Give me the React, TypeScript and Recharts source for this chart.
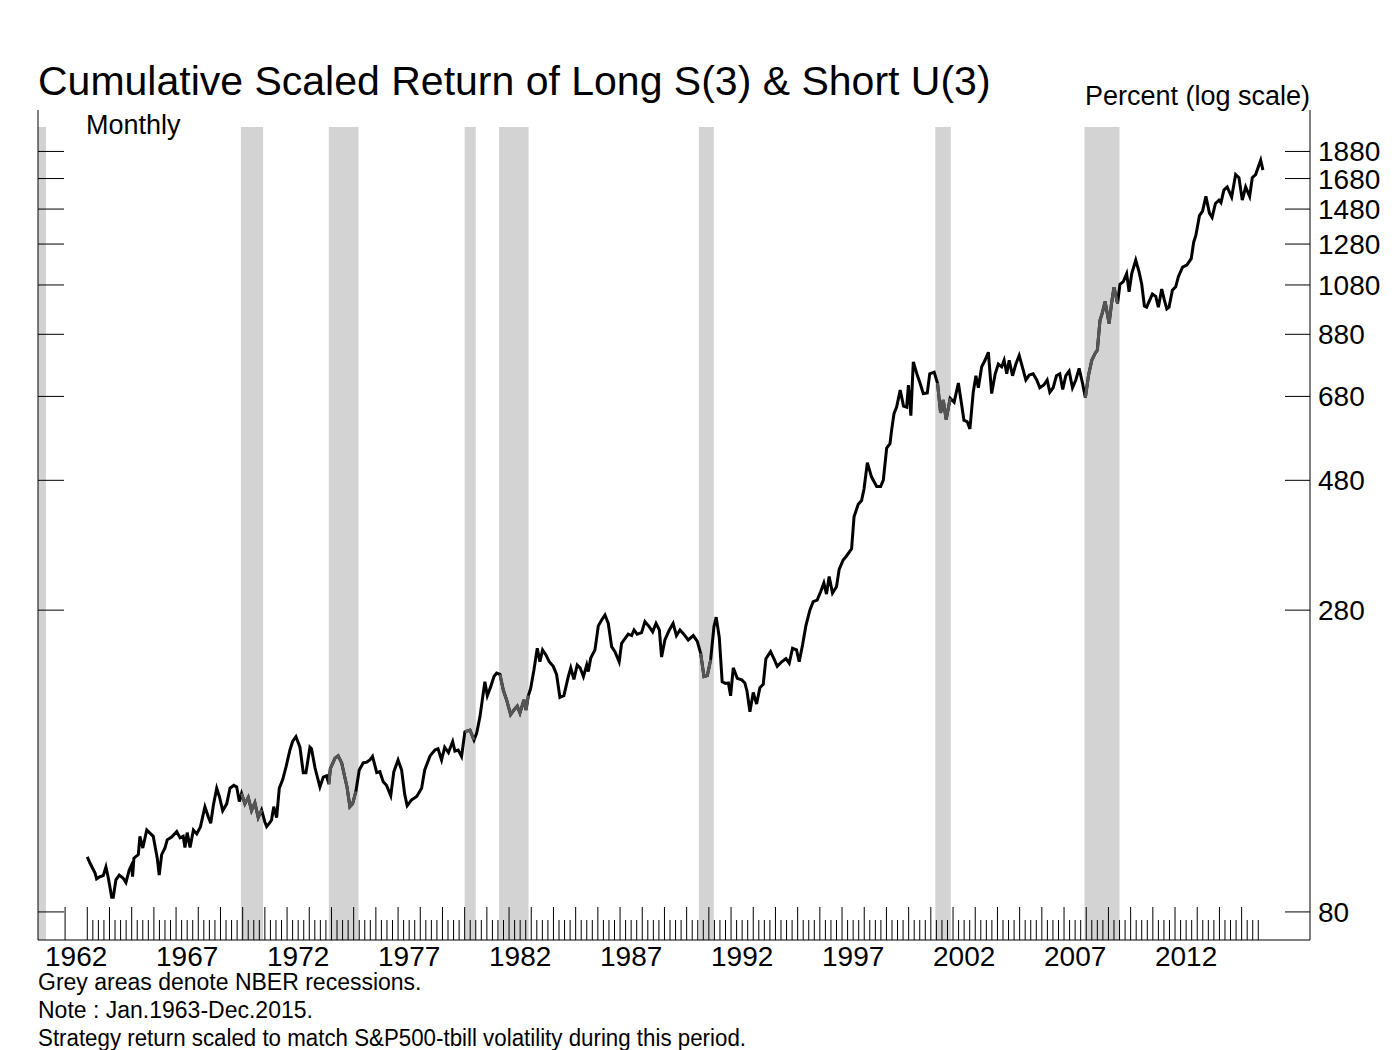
import { ComposedChart, Line, XAxis, YAxis, ReferenceArea } from 'recharts';

// Monthly-ish readings (year fraction) of the cumulative scaled return, percent
const dates = [
  1963.0, 1963.12, 1963.35, 1963.42, 1963.57, 1963.72, 1963.84, 1963.95, 1964.1, 1964.17,
  1964.29, 1964.44, 1964.62, 1964.74, 1964.89, 1965.0, 1965.04, 1965.1, 1965.3, 1965.37,
  1965.5, 1965.68, 1965.97, 1966.15, 1966.24, 1966.35, 1966.5, 1966.6, 1966.8, 1967.03,
  1967.18, 1967.32, 1967.4, 1967.5, 1967.63, 1967.78, 1967.93, 1968.1, 1968.3, 1968.45,
  1968.56, 1968.68, 1968.83, 1968.95, 1969.1, 1969.28, 1969.43, 1969.6, 1969.73, 1969.85,
  1969.95, 1970.1, 1970.25, 1970.4, 1970.55, 1970.7, 1970.85, 1971.0, 1971.08, 1971.23,
  1971.3, 1971.4, 1971.53, 1971.65, 1971.8, 1971.95, 1972.13, 1972.25, 1972.4, 1972.58,
  1972.73, 1972.85, 1973.03, 1973.1, 1973.26, 1973.48, 1973.63, 1973.78, 1973.88, 1973.95,
  1974.16, 1974.3, 1974.46, 1974.6, 1974.7, 1974.83, 1974.95, 1975.1, 1975.25, 1975.43,
  1975.59, 1975.73, 1975.85, 1976.04, 1976.18, 1976.33, 1976.48, 1976.67, 1976.81, 1977.0,
  1977.16, 1977.3, 1977.41, 1977.6, 1977.84, 1978.06, 1978.2, 1978.44, 1978.66, 1978.8,
  1978.96, 1979.1, 1979.27, 1979.46, 1979.56, 1979.71, 1979.86, 1980.01, 1980.24, 1980.42,
  1980.54, 1980.69, 1980.91, 1981.02, 1981.17, 1981.32, 1981.44, 1981.59, 1981.74, 1981.89,
  1982.07, 1982.22, 1982.37, 1982.49, 1982.67, 1982.76, 1982.87, 1982.97, 1983.12, 1983.27,
  1983.39, 1983.51, 1983.66, 1983.81, 1983.99, 1984.14, 1984.29, 1984.47, 1984.67, 1984.78,
  1984.92, 1985.07, 1985.2, 1985.35, 1985.5, 1985.57, 1985.68, 1985.87, 1986.02, 1986.17,
  1986.32, 1986.47, 1986.62, 1986.77, 1986.96, 1987.07, 1987.18, 1987.37, 1987.52, 1987.63,
  1987.77, 1987.97, 1988.12, 1988.31, 1988.47, 1988.62, 1988.77, 1988.87, 1989.02, 1989.22,
  1989.39, 1989.54, 1989.7, 1989.87, 1990.07, 1990.3, 1990.48, 1990.63, 1990.78, 1990.93,
  1991.08, 1991.23, 1991.33, 1991.47, 1991.6, 1991.75, 1991.88, 1991.98, 1992.1, 1992.28,
  1992.48, 1992.62, 1992.72, 1992.85, 1993.0, 1993.15, 1993.3, 1993.45, 1993.57, 1993.78,
  1993.93, 1994.08, 1994.28, 1994.47, 1994.62, 1994.77, 1994.95, 1995.07, 1995.22, 1995.37,
  1995.55, 1995.7, 1995.88, 1996.04, 1996.18, 1996.3, 1996.42, 1996.57, 1996.75, 1996.87,
  1997.05, 1997.2, 1997.43, 1997.54, 1997.73, 1997.88, 1997.99, 1998.14, 1998.33, 1998.56,
  1998.74, 1998.86, 1999.01, 1999.16, 1999.23, 1999.34, 1999.46, 1999.62, 1999.77, 1999.91,
  1999.99, 2000.1, 2000.21, 2000.38, 2000.53, 2000.66, 2000.84, 2000.95, 2001.15, 2001.3,
  2001.44, 2001.56, 2001.69, 2001.87, 2002.05, 2002.24, 2002.39, 2002.49, 2002.64, 2002.76,
  2002.91, 2003.03, 2003.14, 2003.29, 2003.44, 2003.59, 2003.74, 2003.9, 2004.04, 2004.19,
  2004.3, 2004.42, 2004.53, 2004.68, 2004.83, 2004.98, 2005.14, 2005.28, 2005.43, 2005.61,
  2005.77, 2005.91, 2006.09, 2006.24, 2006.36, 2006.51, 2006.66, 2006.81, 2006.94, 2007.08,
  2007.23, 2007.38, 2007.53, 2007.68, 2007.83, 2007.96, 2008.1, 2008.25, 2008.4, 2008.5,
  2008.62, 2008.72, 2008.85, 2009.03, 2009.14, 2009.25, 2009.32, 2009.41, 2009.52, 2009.67,
  2009.82, 2009.93, 2010.05, 2010.23, 2010.38, 2010.5, 2010.62, 2010.72, 2010.83, 2010.98,
  2011.13, 2011.25, 2011.4, 2011.52, 2011.63, 2011.73, 2011.88, 2012.03, 2012.15, 2012.34,
  2012.53, 2012.73, 2012.84, 2012.94, 2013.1, 2013.24, 2013.39, 2013.55, 2013.67, 2013.82,
  2013.98, 2014.07, 2014.2, 2014.35, 2014.55, 2014.73, 2014.88, 2015.03, 2015.18, 2015.36,
  2015.48, 2015.63, 2015.86, 2015.96,
];

const values = [
  100.5, 98, 94, 91.8, 92.6, 93, 96.4, 92, 85, 85,
  91.4, 93.2, 92, 90.4, 95.2, 97.3, 92.6, 100, 101.5, 109.5,
  104.3, 112.4, 109.5, 100.1, 93.2, 101.5, 104.3, 107.9, 109.2, 111.7,
  108.8, 109.5, 104.5, 111.2, 104.5, 112.4, 110.6, 114, 123.8, 118.8,
  115.6, 124.6, 133.7, 129.2, 121.8, 125.3, 133.7, 135.3, 134.4, 126.5,
  130.8, 125.3, 128.7, 121.8, 125.8, 118.4, 122.2, 116.2, 114, 116,
  117.2, 123.8, 118.4, 133.7, 138.4, 146, 156.7, 162.3, 165.6, 158.5,
  142.6, 142.6, 158.5, 157.5, 145.4, 134.4, 140, 140.8, 136, 145,
  151.5, 153, 148.5, 140, 134.4, 123.8, 125.3, 131.9, 144.2, 148.5,
  149, 150.3, 152.6, 142.6, 143.2, 137.4, 135.3, 129.6, 143.2, 150.3,
  144.2, 130.3, 124.3, 127.3, 129.2, 133.7, 144.2, 152.9, 156.7, 157.5,
  150.3, 158.5, 155, 162.3, 156, 156.7, 152.6, 169, 170.2, 163.4,
  168, 180, 208, 196.4, 203.6, 212.6, 215.6, 214.4, 201, 192.9,
  181.5, 185, 188, 182.7, 192.9, 185, 196.4, 202, 218.4, 239,
  226, 237.4, 232.5, 226, 221.7, 214.4, 195, 196.4, 212.6, 220.4,
  210, 223, 220.4, 212.6, 223, 217, 229.5, 237.4, 262.3, 268.8,
  274.5, 265, 240.7, 235.7, 226, 243.9, 247.4, 253.4, 252, 257.9,
  253.4, 255, 267, 261.5, 256, 265, 258, 230.5, 247.4, 257.9,
  265, 252, 257.9, 253.4, 247.4, 252, 246, 234, 212.6, 213.5,
  227.7, 261.5, 272, 250, 208, 206.6, 207, 196.2, 220.4, 211,
  209.6, 207, 200, 183.7, 199, 189.6, 203, 205.9, 228.9, 235.7,
  228.9, 221.7, 226, 228.9, 224.7, 239, 237.4, 226, 242.2, 262.3,
  280, 290, 292, 302.6, 313.4, 299.3, 322, 300.6, 308.6, 331.7,
  344.8, 350.6, 361.2, 412.6, 434.6, 441.5, 463, 516.5, 486.5, 468,
  468, 480.6, 548.6, 559, 590, 633, 651, 698, 653, 650,
  713, 628, 785, 745, 715, 688, 690, 747, 752, 719,
  635, 670, 618, 675, 664, 719, 656, 616, 612, 594,
  692, 741, 705, 769, 790, 817, 688, 747, 778, 769,
  790, 747, 790, 741, 778, 806, 764, 728, 743, 747,
  728, 705, 713, 728, 692, 705, 741, 747, 700, 741,
  755, 705, 728, 764, 719, 676, 741, 790, 813, 824,
  933, 960, 1008, 920, 1000, 1070, 1040, 1000, 1083, 1095,
  1132, 1050, 1132, 1197, 1140, 1083, 990, 985, 1008, 1040,
  1030, 985, 1062, 1014, 978, 985, 1057, 1072, 1118, 1163,
  1173, 1205, 1290, 1328, 1440, 1468, 1560, 1455, 1430, 1515,
  1536, 1520, 1601, 1622, 1555, 1708, 1686, 1536, 1622, 1560,
  1686, 1708, 1813, 1740,
];

// NBER recessions (start, end as year fractions)
const recessionStart = [1960.33, 1969.92, 1973.88, 1980.0, 1981.55, 1990.55, 2001.2, 2007.92];
const recessionEnd = [1961.14, 1970.92, 1975.22, 1980.5, 1982.88, 1991.22, 2001.9, 2009.5];

const yTicks = [80, 280, 480, 680, 880, 1080, 1280, 1480, 1680, 1880];
const labelYears = [1962, 1967, 1972, 1977, 1982, 1987, 1992, 1997, 2002, 2007, 2012];
const firstTickYear = 1962;
const lastTickYear = 2015;

const X_DOMAIN: [number, number] = [1960.78, 2018.08];
const Y_DOMAIN: [number, number] = [71.2, 2233];
const BAND_TOP = 2081;

const FONT = '"Liberation Sans", Arial, sans-serif';

const inRecession = (t: number) =>
  recessionStart.some((s, i) => t >= s && t <= recessionEnd[i]);

const data = dates.map((t, i) => ({
  t,
  v: values[i],
  rec: inRecession(t) ? values[i] : null,
}));

const xTicks: number[] = [];
for (let y = firstTickYear; y <= lastTickYear; y++) {
  xTicks.push(y);
  if (y > firstTickYear) xTicks.push(y + 0.25, y + 0.5, y + 0.75);
}
labelYears.forEach((y) => {
  if (!xTicks.includes(y + 0.5)) xTicks.push(y + 0.5);
});
xTicks.sort((a, b) => a - b);

const XTick = (props: any) => {
  const { x, payload } = props;
  const v: number = payload.value;
  const yr = Math.floor(v + 1e-6);
  const frac = v - yr;
  const isYear = Math.abs(frac) < 1e-6;
  const isLabel = Math.abs(frac - 0.5) < 1e-6 && labelYears.includes(yr);
  const drawTick = isYear || yr > firstTickYear;
  return (
    <g>
      {drawTick && (
        <line x1={x} x2={x} y1={940} y2={940 - (isYear ? 33 : 20)} stroke="#000" strokeWidth={1} />
      )}
      {isLabel && (
        <text x={x} y={966} textAnchor="middle" fontSize={28} fontFamily={FONT} fill="#000">
          {yr}
        </text>
      )}
    </g>
  );
};

const RightTick = (props: any) => {
  const { y, payload } = props;
  return (
    <g>
      <line x1={1285} x2={1310} y1={y} y2={y} stroke="#000" strokeWidth={1} />
      <text x={1318} y={y + 10} fontSize={28} fontFamily={FONT} fill="#000">
        {payload.value}
      </text>
    </g>
  );
};

const LeftTick = (props: any) => {
  const { y } = props;
  return <line x1={38} x2={64} y1={y} y2={y} stroke="#000" strokeWidth={1} />;
};

export default function App() {
  return (
    <div style={{ position: 'absolute', left: 0, top: 0, width: 1400, height: 1050, background: '#fff' }}>
      <ComposedChart
        width={1400}
        height={1050}
        data={data}
        margin={{ top: 110, right: 89, bottom: 109, left: 37 }}
      >
        {recessionStart.map((s, i) => (
          <ReferenceArea
            key={`rec-${i}`}
            yAxisId="right"
            x1={Math.max(s, X_DOMAIN[0])}
            x2={recessionEnd[i]}
            y1={Y_DOMAIN[0]}
            y2={BAND_TOP}
            fill="#d3d3d3"
            fillOpacity={1}
            stroke="none"
            ifOverflow="visible"
          />
        ))}
        <XAxis
          dataKey="t"
          type="number"
          domain={X_DOMAIN}
          allowDataOverflow
          ticks={xTicks}
          interval={0}
          height={1}
          tickSize={0}
          tickMargin={0}
          tickLine={false}
          tick={<XTick />}
          axisLine={{ stroke: '#000', strokeWidth: 1 }}
        />
        <YAxis
          yAxisId="left"
          orientation="left"
          scale="log"
          domain={Y_DOMAIN}
          allowDataOverflow
          ticks={yTicks}
          interval={0}
          width={1}
          tickSize={0}
          tickMargin={0}
          tickLine={false}
          tick={<LeftTick />}
          axisLine={{ stroke: '#000', strokeWidth: 1 }}
        />
        <YAxis
          yAxisId="right"
          orientation="right"
          scale="log"
          domain={Y_DOMAIN}
          allowDataOverflow
          ticks={yTicks}
          interval={0}
          width={1}
          tickSize={0}
          tickMargin={0}
          tickLine={false}
          tick={<RightTick />}
          axisLine={{ stroke: '#000', strokeWidth: 1 }}
        />
        <Line
          yAxisId="right"
          type="linear"
          dataKey="v"
          stroke="#000"
          strokeWidth={3}
          dot={false}
          isAnimationActive={false}
        />
        <Line
          yAxisId="right"
          type="linear"
          dataKey="rec"
          stroke="#555"
          strokeWidth={3}
          dot={false}
          connectNulls={false}
          isAnimationActive={false}
        />
      </ComposedChart>
      <svg
        width={1400}
        height={1050}
        style={{ position: 'absolute', left: 0, top: 0, pointerEvents: 'none' }}
      >
        <text x={38} y={95} fontSize={41} fontFamily={FONT} fill="#000">
          Cumulative Scaled Return of Long S(3) &amp; Short U(3)
        </text>
        <text x={1310} y={105} fontSize={27} fontFamily={FONT} fill="#000" textAnchor="end">
          Percent (log scale)
        </text>
        <text x={86} y={134} fontSize={27} fontFamily={FONT} fill="#000">
          Monthly
        </text>
        <text x={38} y={990} fontSize={23} fontFamily={FONT} fill="#000">
          Grey areas denote NBER recessions.
        </text>
        <text x={38} y={1018} fontSize={23} fontFamily={FONT} fill="#000">
          Note : Jan.1963-Dec.2015.
        </text>
        <text x={38} y={1046} fontSize={23} fontFamily={FONT} fill="#000" textLength={708} lengthAdjust="spacingAndGlyphs">
          Strategy return scaled to match S&amp;P500-tbill volatility during this period.
        </text>
      </svg>
    </div>
  );
}
